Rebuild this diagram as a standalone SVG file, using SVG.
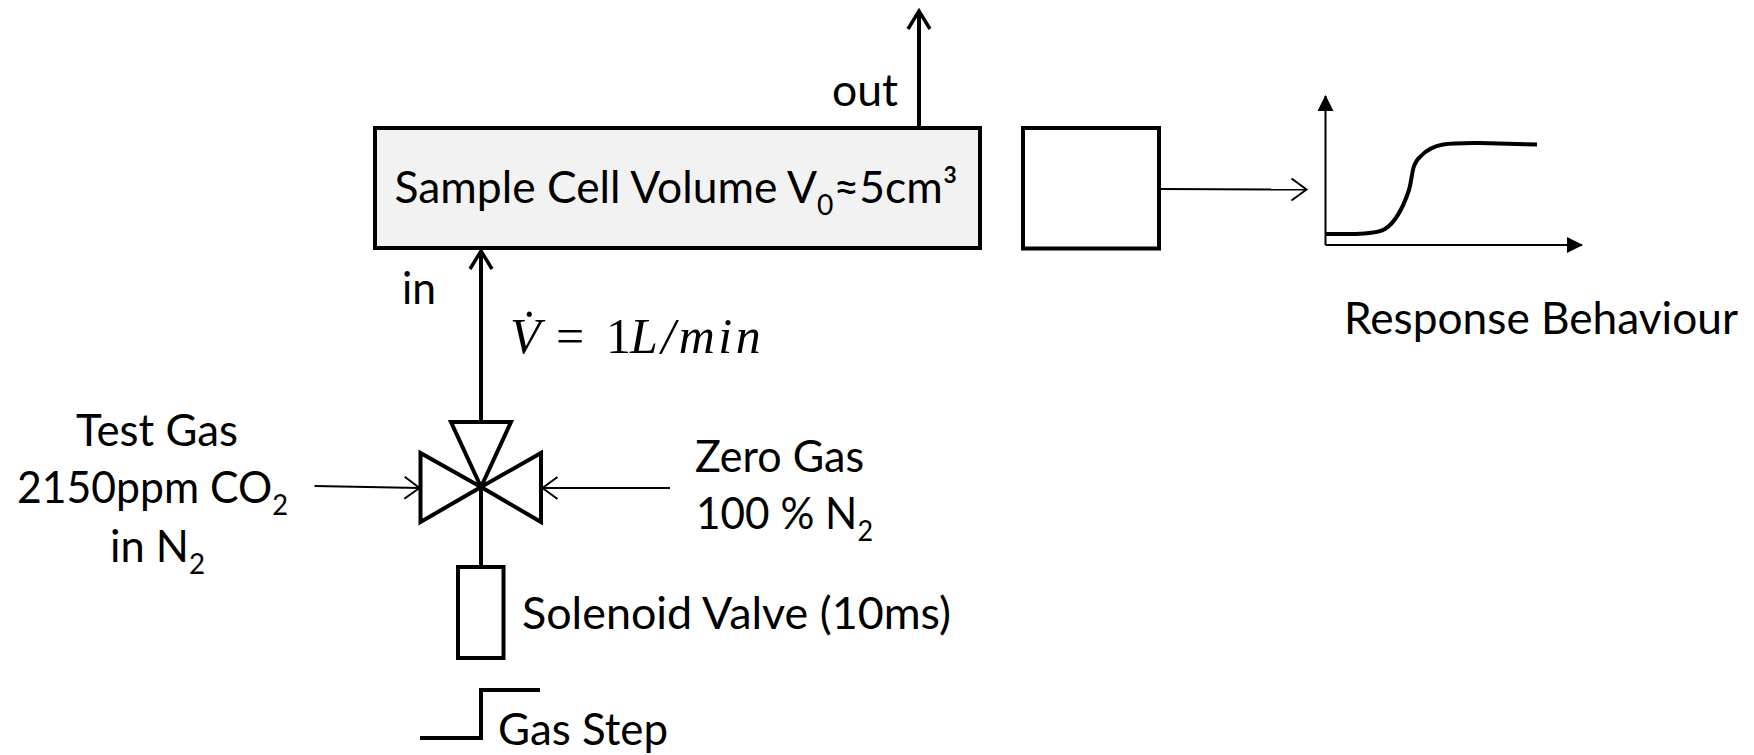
<svg xmlns="http://www.w3.org/2000/svg" width="1754" height="755" viewBox="0 0 1754 755">
<defs>
<marker id="open" markerUnits="userSpaceOnUse" markerWidth="24" markerHeight="26" refX="19" refY="13" orient="auto"><path d="M4 2 L19 13 L4 24" fill="none" stroke="#000" stroke-width="2"/></marker>
<marker id="openb" markerUnits="userSpaceOnUse" markerWidth="26" markerHeight="28" refX="21" refY="14" orient="auto"><path d="M3 3 L21 14 L3 25" fill="none" stroke="#000" stroke-width="3.5"/></marker>
<marker id="solid" markerUnits="userSpaceOnUse" markerWidth="18" markerHeight="18" refX="15" refY="8" orient="auto"><path d="M0 0 L16 8 L0 16 Z" fill="#000"/></marker>
</defs>
<style>
text{font-family:"Lato","Liberation Sans",sans-serif;font-size:44px;fill:#000}
.m{font-family:"Liberation Serif","DejaVu Serif",serif;font-style:italic;font-size:50px}
.n{font-family:"Liberation Serif","DejaVu Serif",serif;font-style:normal}
.b{fill:none;stroke:#000;stroke-width:4;stroke-linejoin:miter}
.l{fill:none;stroke:#000;stroke-width:4}
.t{fill:none;stroke:#000;stroke-width:2}
</style>
<rect width="1754" height="755" fill="#fff"/>
<g id="connectors">
<line class="l" x1="919" y1="127" x2="919" y2="11" marker-end="url(#openb)"/>
<line class="l" x1="481" y1="422" x2="481" y2="251" marker-end="url(#openb)"/>
<line class="l" x1="481" y1="487" x2="481" y2="566"/>
<line class="t" x1="314.500" y1="486" x2="419.500" y2="488" marker-end="url(#open)"/>
<line class="t" x1="670" y1="488" x2="542.500" y2="488" marker-end="url(#open)"/>
<line class="t" x1="1160" y1="189" x2="1306.500" y2="189.500" marker-end="url(#open)"/>
</g>
<g id="sample-cell">
<rect class="b" x="375" y="128" width="605" height="120" style="fill:#f2f2f2"/>
<text x="394.500" y="203" textLength="563" lengthAdjust="spacingAndGlyphs">Sample Cell Volume V<tspan font-size="28" dy="12">0</tspan><tspan dy="-12">≈5cm³</tspan></text>
</g>
<g id="detector"><rect class="b" x="1023" y="128" width="136" height="120.500"/></g>
<g id="valve">
<path class="b" d="M451 422 H511 L481 487 Z"/>
<path class="b" d="M420.500 453 V522 L481 487 Z"/>
<path class="b" d="M541 453 V522 L481 487 Z"/>
</g>
<g id="solenoid">
<rect class="b" x="458" y="567" width="45.500" height="91"/>
<text x="522" y="629" textLength="429" lengthAdjust="spacingAndGlyphs">Solenoid Valve (10ms)</text>
</g>
<g id="gas-step">
<path class="l" d="M420 738 H481 V690 H540"/>
<text x="498" y="745" textLength="170" lengthAdjust="spacingAndGlyphs">Gas Step</text>
</g>
<g id="response">
<line class="t" x1="1325.500" y1="245" x2="1325.500" y2="96" marker-end="url(#solid)"/>
<line class="t" x1="1325.500" y1="245" x2="1582" y2="245" marker-end="url(#solid)"/>
<path class="l" d="M1326 234 C1350 234 1375 235 1385 229 C1396 222 1404 205 1409 190 C1413 176 1411 164 1421 156 C1434 142 1452 143 1480 143 L1537 144.500"/>
<text x="1344" y="334" textLength="394" lengthAdjust="spacingAndGlyphs">Response Behaviour</text>
</g>
<g id="labels">
<text x="832" y="106" textLength="66" lengthAdjust="spacingAndGlyphs">out</text>
<text x="402" y="304" textLength="34" lengthAdjust="spacingAndGlyphs">in</text>
<text class="m" x="510" y="353">V̇<tspan class="n" x="556">=</tspan><tspan class="n" x="606">1</tspan><tspan x="630" letter-spacing="3.500">L/min</tspan></text>
<text x="76" y="446" textLength="162" lengthAdjust="spacingAndGlyphs">Test Gas</text>
<text x="17" y="503" textLength="271" lengthAdjust="spacingAndGlyphs">2150ppm CO<tspan font-size="28" dy="12">2</tspan></text>
<text x="110" y="562" textLength="95" lengthAdjust="spacingAndGlyphs">in N<tspan font-size="28" dy="12">2</tspan></text>
<text x="695" y="472" textLength="169" lengthAdjust="spacingAndGlyphs">Zero Gas</text>
<text x="696" y="529" textLength="177" lengthAdjust="spacingAndGlyphs">100 % N<tspan font-size="28" dy="12">2</tspan></text>
</g>
</svg>
